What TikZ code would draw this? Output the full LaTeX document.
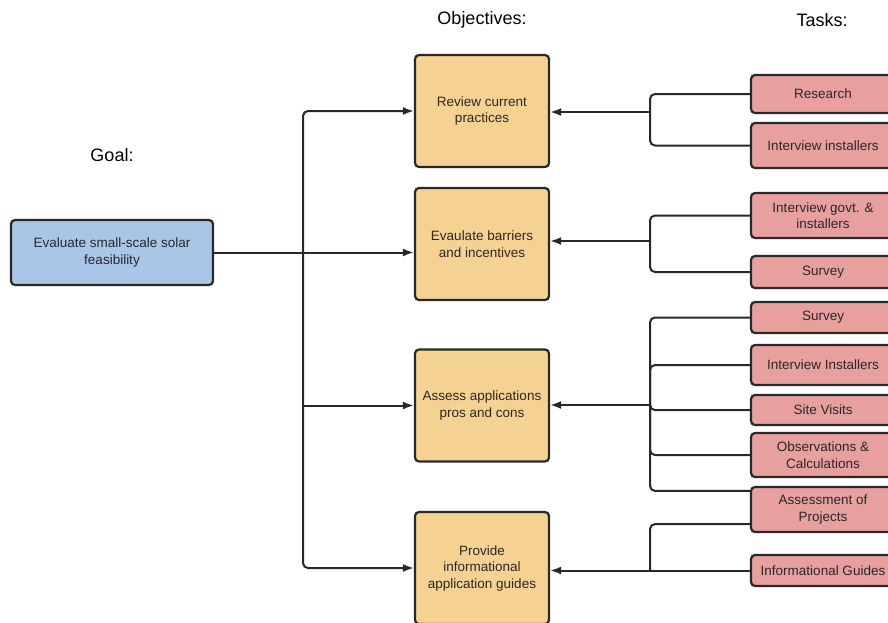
\documentclass[tikz,border=0pt]{standalone}
\usepackage{fontspec}
\setmainfont{Liberation Sans}
\usetikzlibrary{arrows.meta,calc}
\definecolor{goalblue}{RGB}{169,198,232}
\definecolor{objtan}{RGB}{246,210,146}
\definecolor{taskred}{RGB}{232,160,158}
\definecolor{edgegray}{RGB}{40,40,40}
\definecolor{txtgray}{RGB}{40,40,40}
\begin{document}
\begin{tikzpicture}[x=1pt,y=-1pt,
 box/.style={draw=edgegray, line width=2.2pt, rounded corners=4pt, align=center, text=txtgray, font=\fontsize{13.5}{16.5}\selectfont, inner sep=2pt},
 goalbox/.style={box, fill=goalblue, minimum width=202pt, minimum height=65pt},
 objbox/.style={box, fill=objtan, minimum width=134pt, minimum height=112pt},
 taskbox/.style={box, fill=taskred, minimum width=144pt},
 head/.style={font=\fontsize{18}{21}\selectfont, text=black},
 conn/.style={draw=edgegray, line width=2pt, rounded corners=5pt},
 arr/.style={conn, -{Latex[length=11pt,width=8pt]}}
]
\useasboundingbox (0,0) rectangle (888,622);
\clip (0,0) rectangle (888,622);

% headers
\node[head] (hgoal) at (112,155) {Goal:};
\node[head] (hobj) at (482,20) {Objectives:};
\node[head] (htask) at (822,20) {Tasks:};

% goal
\node[goalbox] (goal) at (112,252.5) {Evaluate small-scale solar\\feasibility};

% objectives
\node[objbox] (obj1) at (482,111) {Review current\\practices};
\node[objbox] (obj2) at (482,244) {Evaulate barriers\\and incentives};
\node[objbox] (obj3) at (482,405.5) {Assess applications\\pros and cons};
\node[objbox] (obj4) at (482,568) {Provide\\informational\\application guides};

% tasks
\node[taskbox, minimum height=38pt] (research) at (823,94) {Research};
\node[taskbox, minimum height=45pt] (intinst) at (823,145.5) {Interview installers};
\node[taskbox, minimum height=45pt] (intgov) at (823,215.5) {Interview govt. \&\\installers};
\node[taskbox, minimum height=32pt] (surveya) at (823,272) {Survey};
\node[taskbox, minimum height=31pt] (surveyb) at (823,317.5) {Survey};
\node[taskbox, minimum height=40pt] (intinstb) at (823,365) {Interview Installers};
\node[taskbox, minimum height=30pt] (site) at (823,410) {Site Visits};
\node[taskbox, minimum height=44pt] (obs) at (823,455) {Observations \&\\Calculations};
\node[taskbox, minimum height=45pt] (assess) at (823,509.5) {Assessment of\\Projects};
\node[taskbox, minimum height=31pt] (guides) at (823,570.5) {Informational Guides};

% goal to objectives
\coordinate (sp) at (303,252);
\draw[arr] (goal.east) -- (goal.east -| obj2.west);
\draw[arr] (sp) |- (obj1.west);
\draw[arr] (sp) |- (obj4.west);
\draw[arr] (sp |- obj3.west) -- (obj3.west);

% tasks to objective 1
\coordinate (j1) at (650,112);
\draw[conn] (research.west) -| (j1);
\draw[conn] (intinst.west) -| (j1);
\draw[arr] (j1) -- (j1 -| obj1.east);

% tasks to objective 2
\coordinate (j2) at (650,241);
\draw[conn] (intgov.west) -| (j2);
\draw[conn] (surveya.west) -| (j2);
\draw[arr] (j2) -- (j2 -| obj2.east);

% tasks to objective 3
\coordinate (j3) at (650,405);
\draw[conn] (surveyb.west) -| (j3);
\draw[conn] (intinstb.west) -| (j3);
\draw[conn] (site.west) -| (j3);
\draw[conn] (obs.west) -| (j3);
\draw[conn] ($(assess.north west)+(0,5)$) -| (j3);
\draw[arr] (j3) -- (j3 -| obj3.east);

% tasks to objective 4
\coordinate (j4) at (650,570.5);
\draw[conn] ($(assess.south west)+(0,-9)$) -| (j4);
\draw[arr] (guides.west) -- (guides.west -| obj4.east);
\end{tikzpicture}
\end{document}
